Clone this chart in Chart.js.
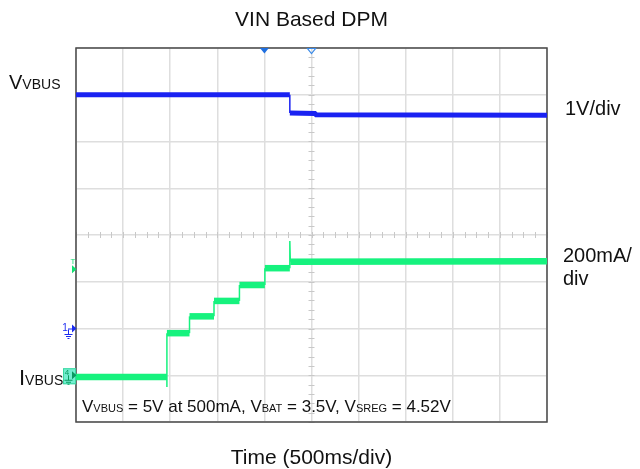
<!DOCTYPE html>
<html><head><meta charset="utf-8">
<script src="https://cdn.jsdelivr.net/npm/chart.js@4"></script>
<style>html,body{margin:0;padding:0;background:#fff}#wrap{width:640px;height:469px}</style>
</head><body><div id="wrap"><canvas id="c" width="640" height="469"></canvas></div>
<script>
// ---- data (real units) ----
const chartTitle = 'VIN Based DPM';
const xAxisTitle = 'Time (500ms/div)';
const msPerDiv = 500, voltsPerDiv = 1, mAPerDiv = 200;
const ch1OffsetDiv = 2, ch4OffsetDiv = 1, triggerLevelDiv = 3.27;
const vbusTimeMs = [0, 2270, 2270, 2535, 2550, 5000];
const vbusVolts  = [5.0, 5.0, 4.61, 4.60, 4.57, 4.56];
const ibusTimeMs = [0, 965, 965, 965, 1205, 1205, 1465, 1465, 1735, 1735, 2005, 2005, 2270, 2270, 2275, 5000];
const ibusMilliA = [-8, -8, -50, 180, 180, 252, 252, 318, 318, 386, 386, 458, 458, 574, 486, 488];
const rightLabels = [['1V/div'], ['200mA/', 'div']];
const leftLabels = [['V', 'VBUS'], ['I', 'VBUS']];
const noteParts = [['V',0],['VBUS',1],[' = 5V at 500mA, V',0],['BAT',1],[' = 3.5V, V',0],['SREG',1],[' = 4.52V',0]];

const FONT = '"Liberation Sans", Arial, sans-serif';
const vbusPts = vbusTimeMs.map((t,i)=>({x:t/msPerDiv, y:vbusVolts[i]/voltsPerDiv + ch1OffsetDiv}));
const ibusPts = ibusTimeMs.map((t,i)=>({x:t/msPerDiv, y:ibusMilliA[i]/mAPerDiv + ch4OffsetDiv}));

function thinVertical(w){
  return ctx => Math.abs(ctx.p0.parsed.x - ctx.p1.parsed.x) < 0.015 ? 1.5 : w;
}
function rich(ctx, x, y, parts, big, small){
  for (const [t, s] of parts){
    ctx.font = (s ? small : big) + 'px ' + FONT;
    ctx.fillText(t, x, y);
    x += ctx.measureText(t).width;
  }
}
function groundSym(ctx, x, y, color){
  ctx.strokeStyle = color; ctx.lineWidth = 1;
  ctx.beginPath();
  ctx.moveTo(x, y); ctx.lineTo(x, y+5);
  ctx.moveTo(x-4, y+5); ctx.lineTo(x+4, y+5);
  ctx.moveTo(x-2.5, y+7); ctx.lineTo(x+2.5, y+7);
  ctx.moveTo(x-1, y+9); ctx.lineTo(x+1, y+9);
  ctx.stroke();
}
function arrowRight(ctx, x, y, color){
  ctx.fillStyle = color;
  ctx.beginPath(); ctx.moveTo(x, y-4); ctx.lineTo(x+4.5, y); ctx.lineTo(x, y+4); ctx.closePath(); ctx.fill();
}

const scopePlugin = {
  id: 'scope',
  beforeDatasetsDraw(chart){
    const {ctx, chartArea:a, scales:{x, y}} = chart;
    ctx.save();
    // minor ticks on center lines
    ctx.strokeStyle = '#c8c8c8'; ctx.lineWidth = 1;
    const cx = x.getPixelForValue(5), cy = y.getPixelForValue(4);
    ctx.beginPath();
    for (let v = 0; v <= 8.001; v += 0.2){
      const py = Math.round(y.getPixelForValue(v)) + 0.5;
      ctx.moveTo(cx-3, py); ctx.lineTo(cx+3, py);
    }
    for (let v = 0; v <= 10.001; v += 0.25){
      const px = Math.round(x.getPixelForValue(v)) + 0.5;
      ctx.moveTo(px, cy-3); ctx.lineTo(px, cy+3);
    }
    ctx.stroke();
    // frame
    ctx.strokeStyle = '#4a4a4a'; ctx.lineWidth = 1.5;
    ctx.strokeRect(a.left, a.top, a.right - a.left, a.bottom - a.top);
    ctx.restore();
  },
  afterDatasetsDraw(chart){
    const {ctx, chartArea:a, scales:{x, y}} = chart;
    ctx.save();
    // top markers
    const tx1 = x.getPixelForValue(4), tx2 = x.getPixelForValue(5);
    ctx.fillStyle = '#1f6fe0';
    ctx.beginPath(); ctx.moveTo(tx1-4.5, a.top); ctx.lineTo(tx1+4.5, a.top); ctx.lineTo(tx1, a.top+5.5); ctx.closePath(); ctx.fill();
    ctx.strokeStyle = '#3a8ae8'; ctx.lineWidth = 1.2;
    ctx.beginPath(); ctx.moveTo(tx2-4, a.top+0.5); ctx.lineTo(tx2+4, a.top+0.5); ctx.lineTo(tx2, a.top+5.5); ctx.closePath(); ctx.stroke();
    // trigger level marker (green T)
    const ty = y.getPixelForValue(triggerLevelDiv);
    ctx.fillStyle = '#10e070';
    ctx.font = '8px ' + FONT; ctx.textAlign = 'center'; ctx.textBaseline = 'alphabetic';
    ctx.fillText('T', a.left - 3, ty - 5);
    arrowRight(ctx, a.left - 4, ty, '#10e070');
    // channel 1 ground marker
    const g1 = y.getPixelForValue(ch1OffsetDiv);
    ctx.fillStyle = '#1a2af0'; ctx.font = '10px ' + FONT;
    ctx.fillText('1', a.left - 11, g1 + 2);
    ctx.strokeStyle = '#1a2af0'; ctx.lineWidth = 1;
    ctx.beginPath(); ctx.moveTo(a.left - 8, g1 + 0.5); ctx.lineTo(a.left - 4, g1 + 0.5); ctx.stroke();
    arrowRight(ctx, a.left - 4, g1, '#1a2af0');
    groundSym(ctx, a.left - 7.5, g1 + 1, '#1a2af0');
    // channel 4 ground marker (selected, boxed)
    const g4 = y.getPixelForValue(ch4OffsetDiv);
    ctx.fillStyle = 'rgba(90,235,200,0.85)';
    ctx.fillRect(a.left - 13, g4 - 7, 13, 16);
    ctx.strokeStyle = '#3ad8a0'; ctx.lineWidth = 1;
    ctx.strokeRect(a.left - 12.5, g4 - 6.5, 12, 15);
    ctx.fillStyle = '#0a9a60'; ctx.font = '8px ' + FONT;
    ctx.fillText('4', a.left - 9, g4);
    arrowRight(ctx, a.left - 4, g4, '#0a9a60');
    groundSym(ctx, a.left - 7.5, g4, '#0a9a60');
    // text labels
    ctx.fillStyle = '#111'; ctx.textAlign = 'left'; ctx.textBaseline = 'alphabetic';
    const vy = y.getPixelForValue(vbusVolts[0] / voltsPerDiv + ch1OffsetDiv);
    rich(ctx, 9, vy - 6, [[leftLabels[0][0],0],[leftLabels[0][1],1]], 20, 14);
    rich(ctx, 19, g4 + 10, [[leftLabels[1][0],0],[leftLabels[1][1],1]], 22, 14);
    ctx.font = '20px ' + FONT;
    ctx.fillText(rightLabels[0][0], a.right + 18, vy + 20);
    ctx.fillText(rightLabels[1][0], a.right + 16, ty - 7);
    ctx.fillText(rightLabels[1][1], a.right + 16, ty + 16);
    rich(ctx, a.left + 6, a.bottom - 10, noteParts, 17, 11);
    ctx.restore();
  }
};

new Chart(document.getElementById('c'), {
  type: 'line',
  data: {
    datasets: [
      { label: 'VVBUS', data: vbusPts, borderColor: '#1a22f2', borderWidth: 5, pointRadius: 0,
        borderCapStyle: 'butt', segment: { borderWidth: thinVertical(5) } },
      { label: 'IVBUS', data: ibusPts, borderColor: '#16f27e', borderWidth: 6.5, pointRadius: 0,
        borderCapStyle: 'butt', segment: { borderWidth: thinVertical(6.5) } }
    ]
  },
  options: {
    responsive: false, animation: false, parsing: true,
    layout: { padding: { left: 76, right: 93, top: 0, bottom: 0 } },
    plugins: {
      legend: { display: false }, tooltip: { enabled: false },
      title: { display: true, text: chartTitle, color: '#111',
        font: { family: FONT, size: 21, weight: 'normal', lineHeight: 1.2 },
        padding: { top: 7.5, bottom: 15.3 } }
    },
    scales: {
      x: { type: 'linear', min: 0, max: 10,
        ticks: { display: false, stepSize: 1 },
        grid: { color: '#dedede', lineWidth: 1.5, drawTicks: false },
        border: { display: false },
        title: { display: true, text: xAxisTitle, color: '#111',
          font: { family: FONT, size: 21, lineHeight: 1.0 }, padding: { top: 26, bottom: 0 } } },
      y: { type: 'linear', min: 0, max: 8,
        ticks: { display: false, stepSize: 1 },
        grid: { color: '#dedede', lineWidth: 1.5, drawTicks: false },
        border: { display: false } }
    }
  },
  plugins: [scopePlugin]
});
</script></body></html>
